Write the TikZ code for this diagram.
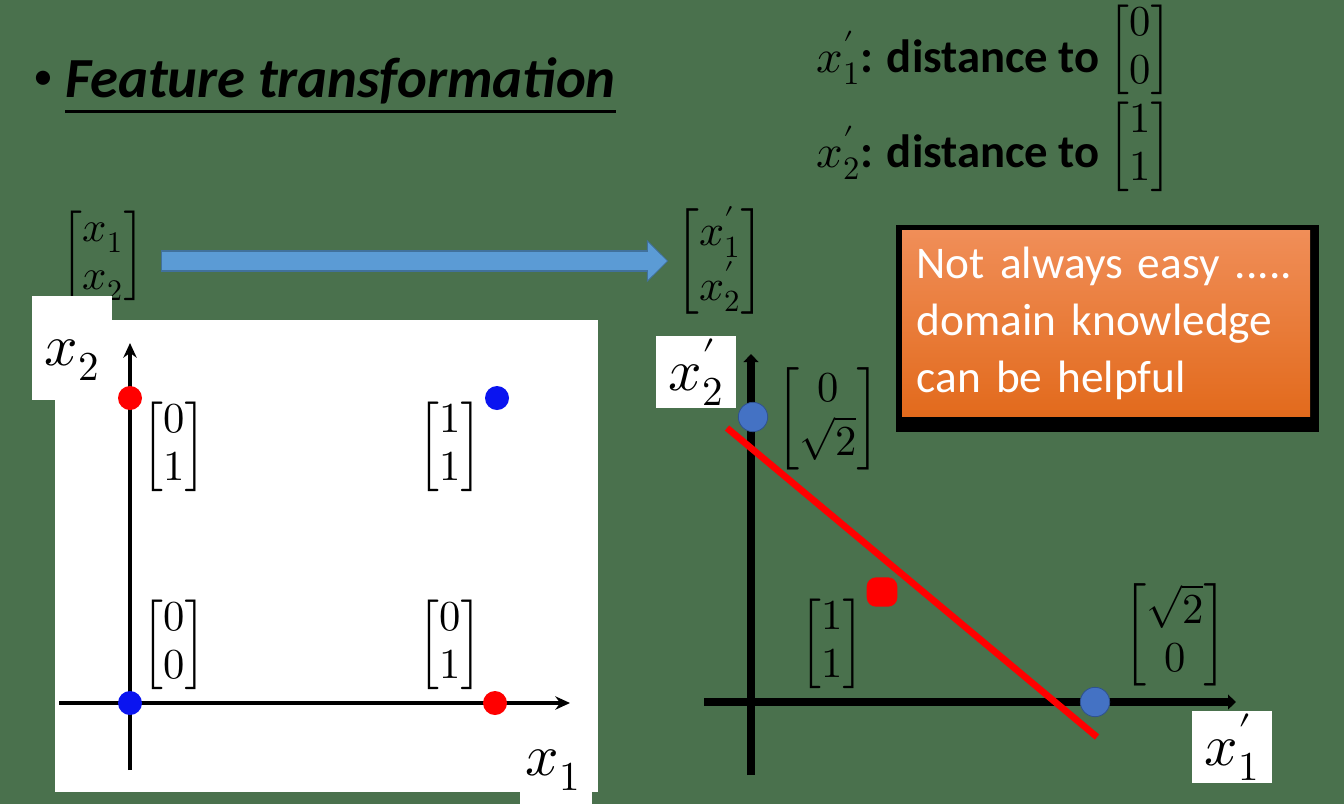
\documentclass[tikz,border=0pt]{standalone}
\usepackage{amsmath}
\usepackage{unicode-math}
\setmathfont{Latin Modern Math}
\newfontfamily\calibri{Carlito}
\usetikzlibrary{shapes, arrows.meta, positioning}

\definecolor{bggreen}{RGB}{74,113,77}
\definecolor{dotred}{RGB}{255,0,0}
\definecolor{dotblue}{RGB}{10,20,240}
\definecolor{ptblue}{RGB}{68,114,196}
\definecolor{ptedge}{RGB}{47,82,143}
\definecolor{arrowblue}{RGB}{91,155,213}
\definecolor{arrowedge}{RGB}{65,113,156}
\definecolor{orangetop}{RGB}{240,142,88}
\definecolor{orangebot}{RGB}{226,106,28}

\newcommand{\colvec}[2]{$\begin{bmatrix}#1\\#2\end{bmatrix}$}

\tikzstyle{rdot} = [circle, fill=dotred, inner sep=0pt, minimum size=18pt]
\tikzstyle{bdot} = [circle, fill=dotblue, inner sep=0pt, minimum size=18pt]
\tikzstyle{pdot} = [circle, fill=ptblue, draw=ptedge, line width=0.6pt, inner sep=0pt, minimum size=22pt]
\tikzstyle{rblob} = [rectangle, rounded corners=7pt, fill=dotred, inner sep=0pt, minimum width=23pt, minimum height=22pt]
\tikzstyle{axisline} = [draw, line width=3pt, -{Stealth[length=11pt, width=10pt]}]
\tikzstyle{paxis} = [draw, line width=6pt, -{Triangle[length=6pt, width=11pt]}]
\tikzstyle{sepline} = [draw=dotred, line width=5pt]
\tikzstyle{vecnode} = [inner sep=0pt, outer sep=0pt]
\tikzstyle{digits} = [font=\fontsize{32}{36}\selectfont]
\tikzstyle{wlabel} = [fill=white, inner sep=0pt, minimum width=60pt, minimum height=54pt, font=\fontsize{44}{48}\selectfont]
\tikzstyle{axlabel} = [inner sep=0pt, font=\fontsize{44}{48}\selectfont]
\tikzstyle{deftext} = [inner sep=0pt, font=\calibri\bfseries\fontsize{35}{40}\selectfont]
\tikzstyle{notebox} = [top color=orangetop, bottom color=orangebot, text=white, align=left, text width=284pt, inner xsep=11pt, minimum width=306pt, minimum height=140pt, font=\calibri\fontsize{34}{43}\selectfont]
\tikzstyle{arrowback} = [draw=arrowedge, line width=16.5pt, -{Triangle[length=16pt, width=31pt]}, shorten <=12.5pt, shorten >=6pt]
\tikzstyle{arrowfront} = [draw=arrowblue, line width=14pt, -{Triangle[length=14pt, width=27pt]}, shorten <=13.5pt, shorten >=7pt]

\begin{document}
\begin{tikzpicture}[x=0.75pt, y=-0.75pt]
\fill [bggreen] (0,0) rectangle (1344,804);
\useasboundingbox (0,0) rectangle (1344,804);

% title
\node [font=\calibri\fontsize{30}{30}\selectfont] (bullet) at (43,80) {•};
\node [anchor=base west, inner sep=0pt, font=\calibri\bfseries\itshape\fontsize{42.5}{48}\selectfont] (title) at (65,97) {\underline{Feature transformation}};

% new features
\node [deftext, anchor=base east] (def1) at (1100,72) {$x'_1$: distance to};
\node [vecnode, digits] (c00) at (1140,50) {\colvec{0}{0}};
\node [deftext, anchor=base east] (def2) at (1100,167) {$x'_2$: distance to};
\node [vecnode, digits] (c11) at (1140,147) {\colvec{1}{1}};

% mapping
\node [vecnode, digits] (vecL) at (103,256) {\colvec{x_1}{x_2}};
\node [vecnode, font=\fontsize{33}{38}\selectfont] (vecR) at (720,261) {\colvec{x'_1}{x'_2}};
\draw [arrowback] (vecL.east |- vecR.west) -- (vecR.west);
\draw [arrowfront] (vecL.east |- vecR.west) -- (vecR.west);

% original space
\fill [white] (55,320) rectangle (598,792);
\fill [white] (32,296) rectangle (112,400);
\fill [white] (520,760) rectangle (592,804);
\coordinate (xs) at (59,703);
\coordinate (xe) at (570,703);
\coordinate (ys) at (130,770);
\coordinate (ye) at (130,343);
\path [axisline] (xs) -- (xe);
\path [axisline] (ys) -- (ye);
\node [rdot] (p01) at (130,398) {};
\node [bdot] (p11) at (497,398) {};
\node [bdot] (p00) at (130,703) {};
\node [rdot] (p10) at (495,703) {};
\node [vecnode, digits] (l01) at (174,447) {\colvec{0}{1}};
\node [vecnode, digits] (l11) at (450,447) {\colvec{1}{1}};
\node [vecnode, digits] (l00) at (174,645) {\colvec{0}{0}};
\node [vecnode, digits] (l10) at (450,645) {\colvec{0}{1}};
\node [axlabel] (x2) at (72,360) {$x_2$};
\node [axlabel] (x1) at (553,770) {$x_1$};

% new space
\coordinate (us) at (704,702);
\coordinate (ue) at (1236,702);
\coordinate (vs) at (751,775);
\coordinate (ve) at (751,354);
\path [paxis] (us) -- (ue);
\path [paxis] (vs) -- (ve);
\coordinate (s1) at (727,428);
\coordinate (s2) at (1097,737);
\path [sepline] (s1) -- (s2);
\node [pdot] (q0r) at (753,417) {};
\node [pdot] (qr0) at (1095,702) {};
\node [rblob] (q11) at (882,592) {};
\node [vecnode, digits] (m0r) at (828,419) {\colvec{0}{\sqrt{2}}};
\node [vecnode, digits] (m11) at (832,644) {\colvec{1}{1}};
\node [vecnode, digits] (mr0) at (1175,635) {\colvec{\sqrt{2}}{0}};
\node [wlabel] (x2p) at (696,372) {$x'_2$};
\node [wlabel] (x1p) at (1232,747) {$x'_1$};

% remark
\fill [black] (896,225) rectangle (1319,432);
\node [notebox] (note) at (1106,323.5) {Not always easy .....\\domain knowledge\\can be helpful};
\end{tikzpicture}
\end{document}
